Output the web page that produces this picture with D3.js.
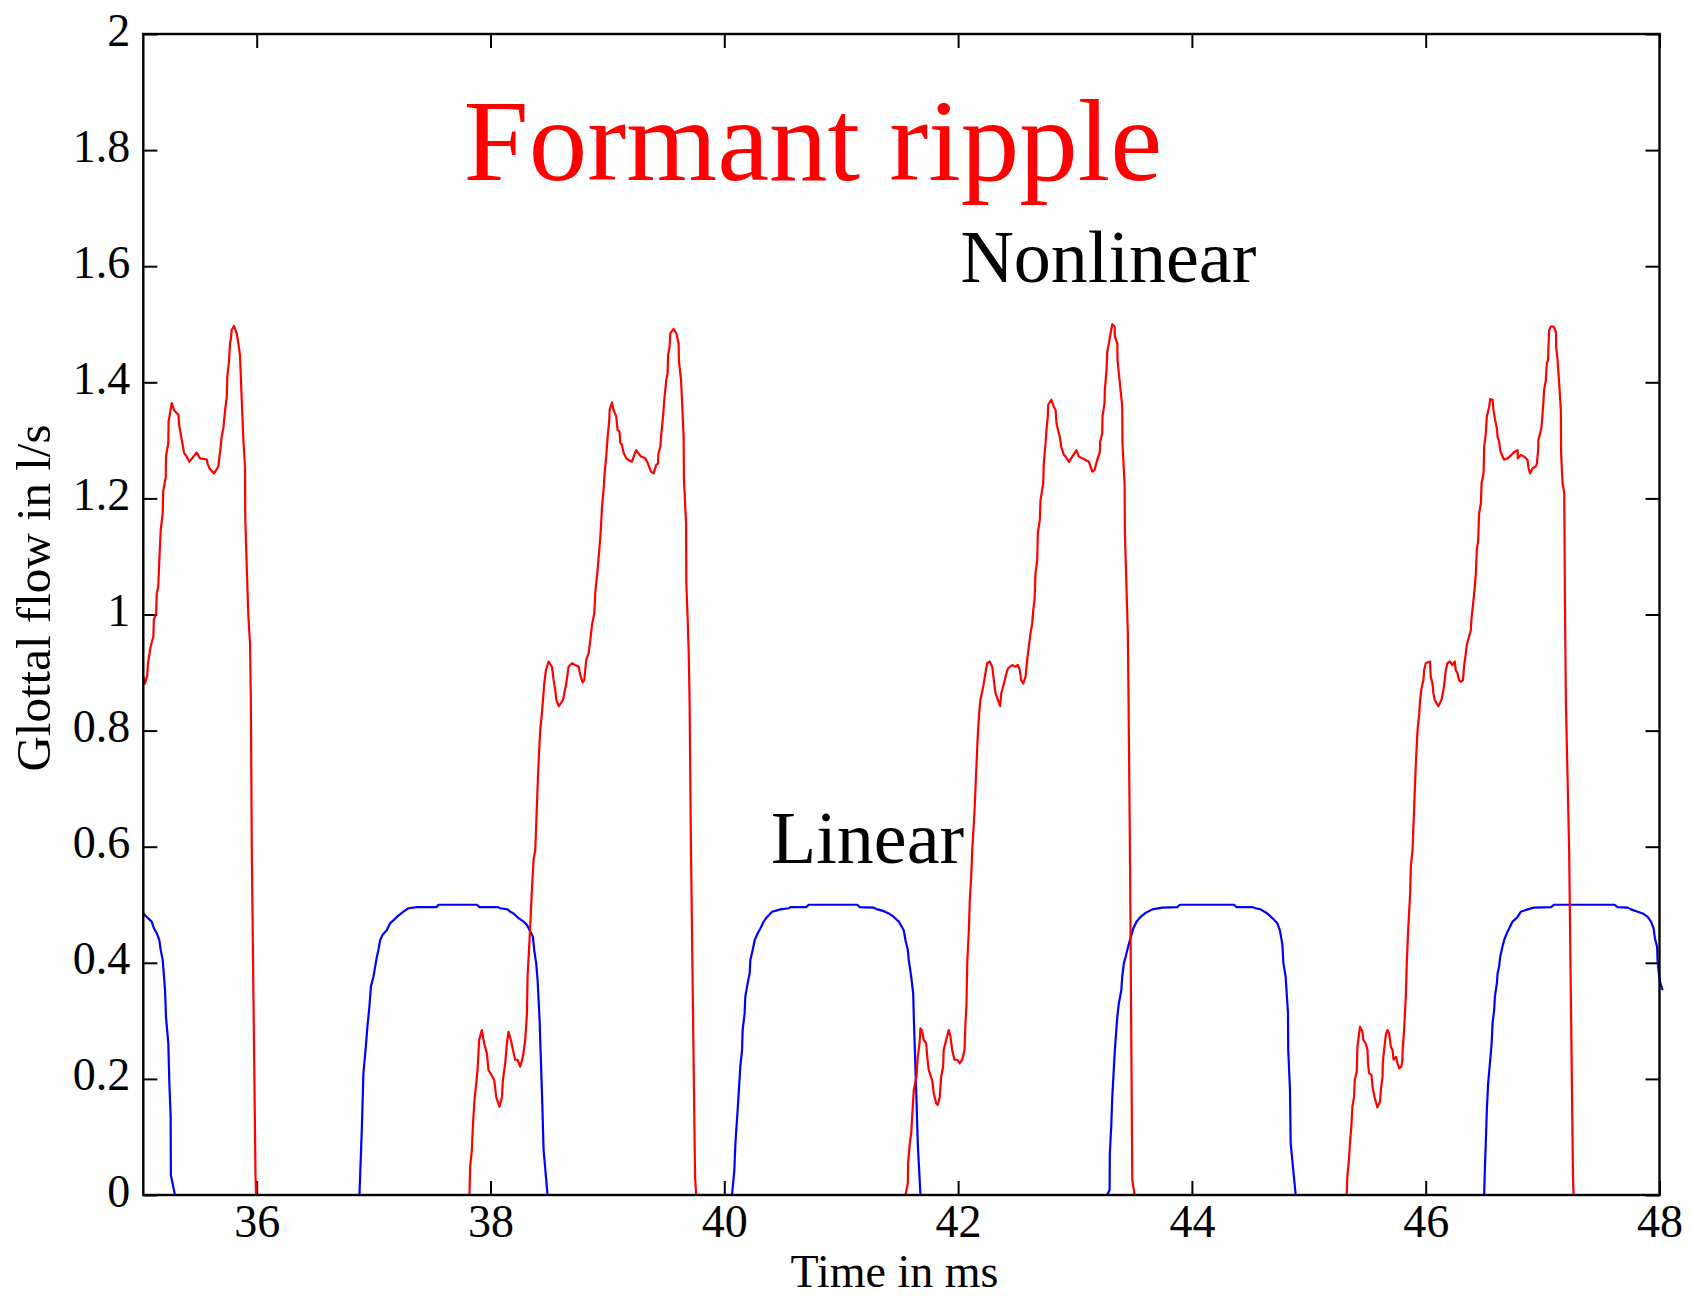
<!DOCTYPE html>
<html>
<head>
<meta charset="utf-8">
<script src="https://cdn.jsdelivr.net/npm/d3@7"></script>
<style>
  body { margin: 0; background: #fff; }
  svg { display: block; }
  text { font-family: "Times New Roman", "Liberation Serif", serif; }
</style>
</head>
<body>
<svg width="1691" height="1296"></svg>
<script>
// time in ms, flow in l/s
const nonlinear = [
  [35.03,0.893],[35.045,0.881],[35.064,0.896],[35.07,0.916],[35.093,0.945],[35.116,0.962],[35.12,0.991],[35.14,1.002],
  [35.145,1.037],[35.158,1.048],[35.167,1.094],[35.179,1.146],[35.196,1.174],[35.2,1.212],[35.222,1.237],[35.224,1.272],
  [35.244,1.295],[35.246,1.332],[35.273,1.364],[35.293,1.352],[35.33,1.344],[35.338,1.324],[35.359,1.301],[35.378,1.279],
  [35.401,1.272],[35.424,1.263],[35.458,1.272],[35.487,1.279],[35.515,1.269],[35.573,1.267],[35.58,1.26],[35.595,1.252],
  [35.635,1.243],[35.672,1.255],[35.68,1.269],[35.692,1.289],[35.70,1.306],[35.715,1.321],[35.73,1.352],[35.744,1.375],
  [35.749,1.41],[35.763,1.436],[35.772,1.467],[35.78,1.476],[35.786,1.49],[35.806,1.497],[35.829,1.484],[35.843,1.467],
  [35.857,1.447],[35.872,1.37],[35.886,1.301],[35.9,1.255],[35.902,1.168],[35.915,1.082],[35.929,0.996],[35.943,0.950],
  [35.95,0.853],[35.958,0.594],[35.99,0.03],[35.995,0],
  [37.82,0],[37.826,0.049],[37.841,0.078],[37.849,0.118],[37.863,0.164],[37.878,0.192],[37.889,0.215],[37.903,0.267],
  [37.926,0.284],[37.946,0.261],[37.969,0.244],[37.983,0.215],[38.004,0.208],[38.032,0.198],[38.049,0.169],[38.077,0.152],
  [38.098,0.169],[38.106,0.198],[38.126,0.227],[38.14,0.261],[38.154,0.281],[38.174,0.267],[38.192,0.25],[38.211,0.233],
  [38.231,0.233],[38.254,0.221],[38.277,0.238],[38.297,0.267],[38.312,0.313],[38.317,0.376],[38.334,0.439],[38.354,0.525],
  [38.368,0.577],[38.383,0.594],[38.395,0.66],[38.41,0.74],[38.425,0.8],[38.44,0.83],[38.449,0.853],[38.46,0.881],
  [38.474,0.904],[38.497,0.919],[38.526,0.91],[38.54,0.887],[38.554,0.87],[38.563,0.853],[38.585,0.842],[38.62,0.853],
  [38.631,0.864],[38.648,0.881],[38.668,0.91],[38.697,0.916],[38.725,0.913],[38.754,0.91],[38.768,0.896],[38.788,0.883],
  [38.802,0.887],[38.819,0.922],[38.839,0.933],[38.854,0.956],[38.868,0.982],[38.888,1.002],[38.896,1.037],[38.916,1.077],
  [38.933,1.117],[38.945,1.151],[38.954,1.186],[38.967,1.214],[38.976,1.243],[38.99,1.272],[39.002,1.306],[39.016,1.335],
  [39.019,1.352],[39.039,1.365],[39.053,1.352],[39.076,1.341],[39.087,1.318],[39.104,1.315],[39.11,1.296],[39.125,1.292],
  [39.139,1.278],[39.162,1.269],[39.181,1.266],[39.21,1.263],[39.23,1.275],[39.247,1.283],[39.267,1.277],[39.288,1.272],
  [39.324,1.269],[39.347,1.26],[39.373,1.246],[39.395,1.243],[39.418,1.258],[39.433,1.26],[39.436,1.277],[39.453,1.289],
  [39.459,1.306],[39.476,1.341],[39.487,1.37],[39.504,1.404],[39.515,1.416],[39.519,1.447],[39.532,1.461],[39.538,1.484],
  [39.566,1.492],[39.59,1.484],[39.609,1.467],[39.612,1.436],[39.63,1.404],[39.638,1.37],[39.652,1.306],[39.655,1.232],
  [39.673,1.157],[39.675,1.054],[39.686,0.996],[39.695,0.939],[39.703,0.853],[39.715,0.594],[39.75,0.03],[39.76,0],
  [41.55,0],[41.57,0.02],[41.572,0.055],[41.587,0.089],[41.599,0.106],[41.607,0.135],[41.621,0.181],[41.644,0.204],
  [41.655,0.238],[41.67,0.261],[41.678,0.287],[41.69,0.284],[41.706,0.267],[41.727,0.261],[41.736,0.238],[41.749,0.215],
  [41.778,0.198],[41.792,0.175],[41.813,0.158],[41.826,0.155],[41.843,0.169],[41.855,0.204],[41.872,0.221],[41.877,0.25],
  [41.898,0.267],[41.92,0.284],[41.935,0.273],[41.949,0.25],[41.969,0.233],[41.992,0.233],[42.014,0.227],[42.035,0.233],
  [42.055,0.25],[42.063,0.296],[42.072,0.33],[42.078,0.399],[42.092,0.456],[42.1,0.508],[42.112,0.548],[42.121,0.594],
  [42.14,0.66],[42.155,0.73],[42.168,0.79],[42.18,0.83],[42.191,0.853],[42.215,0.876],[42.234,0.899],[42.249,0.916],
  [42.271,0.919],[42.292,0.91],[42.306,0.887],[42.32,0.864],[42.34,0.853],[42.36,0.842],[42.369,0.864],[42.392,0.881],
  [42.414,0.899],[42.426,0.907],[42.463,0.913],[42.491,0.91],[42.511,0.913],[42.528,0.904],[42.54,0.887],[42.557,0.881],
  [42.577,0.893],[42.591,0.922],[42.605,0.945],[42.62,0.968],[42.634,0.985],[42.643,1.008],[42.654,1.025],[42.662,1.071],
  [42.677,1.094],[42.682,1.14],[42.699,1.163],[42.705,1.197],[42.728,1.226],[42.733,1.26],[42.748,1.295],[42.756,1.318],
  [42.767,1.341],[42.771,1.361],[42.797,1.37],[42.819,1.358],[42.834,1.352],[42.842,1.329],[42.862,1.312],[42.87,1.306],
  [42.882,1.289],[42.905,1.275],[42.919,1.272],[42.948,1.263],[42.977,1.272],[43.013,1.283],[43.033,1.272],[43.062,1.269],
  [43.09,1.266],[43.119,1.263],[43.148,1.246],[43.167,1.249],[43.19,1.266],[43.213,1.28],[43.215,1.298],[43.233,1.312],
  [43.235,1.341],[43.253,1.364],[43.255,1.387],[43.27,1.421],[43.276,1.453],[43.29,1.467],[43.304,1.484],[43.319,1.5],
  [43.339,1.496],[43.341,1.479],[43.362,1.467],[43.364,1.438],[43.384,1.398],[43.404,1.358],[43.406,1.295],[43.424,1.226],
  [43.427,1.14],[43.441,1.042],[43.452,0.968],[43.458,0.853],[43.47,0.594],[43.49,0.026],[43.51,0],
  [45.324,0],[45.33,0.032],[45.343,0.06],[45.352,0.089],[45.364,0.118],[45.373,0.152],[45.387,0.169],[45.393,0.198],
  [45.41,0.212],[45.416,0.255],[45.438,0.29],[45.459,0.281],[45.467,0.267],[45.487,0.261],[45.502,0.25],[45.507,0.227],
  [45.515,0.21],[45.536,0.207],[45.545,0.187],[45.564,0.167],[45.587,0.151],[45.61,0.161],[45.616,0.181],[45.631,0.204],
  [45.633,0.227],[45.644,0.25],[45.659,0.276],[45.673,0.284],[45.687,0.279],[45.702,0.255],[45.716,0.25],[45.725,0.233],
  [45.745,0.238],[45.759,0.227],[45.773,0.218],[45.793,0.222],[45.801,0.233],[45.803,0.25],[45.815,0.284],[45.83,0.342],
  [45.838,0.399],[45.85,0.456],[45.867,0.52],[45.873,0.566],[45.887,0.594],[45.9,0.66],[45.915,0.74],[45.93,0.8],
  [45.945,0.83],[45.952,0.853],[45.964,0.873],[45.981,0.887],[45.986,0.904],[46.001,0.916],[46.037,0.919],[46.043,0.893],
  [46.058,0.881],[46.066,0.864],[46.077,0.853],[46.108,0.842],[46.135,0.853],[46.152,0.87],[46.163,0.887],[46.172,0.904],
  [46.186,0.916],[46.208,0.919],[46.229,0.913],[46.249,0.919],[46.257,0.904],[46.272,0.899],[46.285,0.887],[46.3,0.884],
  [46.319,0.887],[46.328,0.91],[46.343,0.933],[46.351,0.947],[46.371,0.962],[46.386,0.973],[46.391,0.991],[46.4,1.008],
  [46.409,1.025],[46.42,1.048],[46.429,1.071],[46.437,1.111],[46.449,1.128],[46.457,1.174],[46.472,1.192],[46.478,1.226],
  [46.495,1.243],[46.5,1.289],[46.514,1.312],[46.523,1.341],[46.543,1.358],[46.552,1.371],[46.572,1.37],[46.58,1.352],
  [46.594,1.335],[46.609,1.321],[46.615,1.306],[46.628,1.298],[46.637,1.283],[46.651,1.275],[46.671,1.267],[46.7,1.269],
  [46.734,1.275],[46.756,1.28],[46.786,1.283],[46.788,1.269],[46.814,1.275],[46.842,1.272],[46.871,1.266],[46.88,1.252],
  [46.893,1.243],[46.914,1.252],[46.942,1.255],[46.951,1.26],[46.962,1.283],[46.964,1.301],[46.979,1.312],[46.991,1.324],
  [47.0,1.347],[47.008,1.37],[47.013,1.387],[47.028,1.404],[47.036,1.433],[47.047,1.438],[47.049,1.456],[47.056,1.49],
  [47.071,1.496],[47.094,1.496],[47.114,1.487],[47.116,1.461],[47.128,1.438],[47.142,1.398],[47.156,1.352],[47.158,1.278],
  [47.171,1.226],[47.185,1.209],[47.191,1.025],[47.199,0.853],[47.227,0.594],[47.26,0.03],[47.265,0],[48,0]
];

const linear = [
  [35.03,0.485],[35.06,0.479],[35.102,0.471],[35.122,0.459],[35.145,0.451],[35.167,0.439],[35.179,0.422],[35.196,0.405],
  [35.216,0.353],[35.224,0.307],[35.244,0.261],[35.253,0.192],[35.264,0.135],[35.266,0.034],[35.301,0],
  [36.879,0],[36.9,0.118],[36.913,0.21],[36.936,0.261],[36.947,0.29],[36.964,0.324],[36.977,0.359],[36.999,0.376],
  [37.013,0.393],[37.028,0.41],[37.041,0.422],[37.056,0.439],[37.076,0.448],[37.113,0.456],[37.141,0.468],[37.199,0.479],
  [37.255,0.488],[37.298,0.494],[37.37,0.496],[37.54,0.496],[37.555,0.5],[37.884,0.5],[37.906,0.496],[38.06,0.496],
  [38.083,0.494],[38.146,0.492],[38.169,0.488],[38.197,0.485],[38.24,0.477],[38.283,0.471],[38.312,0.465],[38.34,0.454],
  [38.363,0.445],[38.374,0.422],[38.391,0.399],[38.403,0.37],[38.42,0.301],[38.432,0.227],[38.443,0.158],[38.454,0.078],
  [38.488,0],
  [40.066,0],[40.086,0.043],[40.095,0.089],[40.114,0.146],[40.137,0.221],[40.152,0.25],[40.157,0.284],[40.174,0.313],
  [40.18,0.342],[40.2,0.365],[40.217,0.382],[40.223,0.405],[40.243,0.422],[40.26,0.439],[40.286,0.451],[40.309,0.459],
  [40.337,0.471],[40.366,0.479],[40.409,0.488],[40.48,0.492],[40.551,0.494],[40.566,0.496],[40.703,0.496],[40.722,0.5],
  [41.137,0.5],[41.159,0.496],[41.279,0.495],[41.308,0.492],[41.351,0.49],[41.407,0.485],[41.45,0.479],[41.493,0.471],
  [41.535,0.456],[41.55,0.439],[41.57,0.422],[41.578,0.405],[41.599,0.376],[41.616,0.347],[41.621,0.307],[41.63,0.25],
  [41.644,0.164],[41.655,0.089],[41.678,0],
  [43.276,0],[43.296,0.009],[43.298,0.072],[43.31,0.118],[43.319,0.169],[43.333,0.221],[43.341,0.25],[43.362,0.307],
  [43.375,0.33],[43.396,0.353],[43.404,0.376],[43.418,0.399],[43.433,0.41],[43.447,0.422],[43.47,0.439],[43.499,0.459],
  [43.527,0.471],[43.561,0.479],[43.604,0.486],[43.661,0.492],[43.747,0.495],[43.875,0.496],[43.898,0.5],[44.36,0.5],
  [44.383,0.496],[44.517,0.496],[44.545,0.494],[44.588,0.492],[44.645,0.485],[44.688,0.477],[44.731,0.468],[44.753,0.456],
  [44.774,0.431],[44.783,0.399],[44.802,0.376],[44.822,0.313],[44.824,0.25],[44.839,0.181],[44.845,0.089],[44.888,0],
  [46.5,0],[46.506,0.043],[46.514,0.089],[46.523,0.146],[46.534,0.192],[46.552,0.233],[46.564,0.261],[46.572,0.296],
  [46.586,0.319],[46.592,0.342],[46.609,0.365],[46.615,0.382],[46.628,0.393],[46.637,0.41],[46.657,0.428],[46.671,0.439],
  [46.694,0.451],[46.714,0.459],[46.743,0.471],[46.786,0.479],[46.814,0.488],[46.871,0.492],[46.928,0.495],[47.071,0.496],
  [47.099,0.5],[47.613,0.5],[47.642,0.496],[47.728,0.495],[47.756,0.492],[47.813,0.488],[47.856,0.485],[47.899,0.479],
  [47.927,0.471],[47.95,0.459],[47.961,0.442],[47.979,0.428],[47.985,0.399],[47.998,0.376],[48.007,0.365],[48.027,0.353]
];

const xTicks = [36, 38, 40, 42, 44, 46, 48];
const xTickLabels = ["36", "38", "40", "42", "44", "46", "48"];
const yTicks = [0, 0.2, 0.4, 0.6, 0.8, 1, 1.2, 1.4, 1.6, 1.8, 2];
const yTickLabels = ["0", "0.2", "0.4", "0.6", "0.8", "1", "1.2", "1.4", "1.6", "1.8", "2"];

const svg = d3.select("svg");
const plotL = 143.3, plotR = 1659.5, plotT = 34, plotB = 1195;

const x = d3.scaleLinear().domain([35.03, 48]).range([plotL, plotR]);
const y = d3.scaleLinear().domain([0, 2]).range([plotB, plotT]);

const fontFam = '"Times New Roman", "Liberation Serif", serif';

// axes with inward ticks on all four sides
const tickLen = 14;
const gBottom = svg.append("g").attr("transform", `translate(0,${plotB})`)
  .call(d3.axisBottom(x).tickValues(xTicks).tickSize(-tickLen).tickSizeOuter(0)
    .tickFormat((d, i) => xTickLabels[i]));
gBottom.selectAll("text").attr("y", 42).attr("dy", 0)
  .style("font-size", "46px").style("font-family", fontFam).attr("fill", "#000");

svg.append("g").attr("transform", `translate(0,${plotT})`)
  .call(d3.axisTop(x).tickValues(xTicks).tickSize(-tickLen).tickSizeOuter(0).tickFormat(""));

const gLeft = svg.append("g").attr("transform", `translate(${plotL},0)`)
  .call(d3.axisLeft(y).tickValues(yTicks).tickSize(-tickLen).tickSizeOuter(0)
    .tickPadding(13).tickFormat((d, i) => yTickLabels[i]));
gLeft.selectAll("text").attr("dy", "0.24em")
  .style("font-size", "46px").style("font-family", fontFam).attr("fill", "#000");

svg.append("g").attr("transform", `translate(${plotR},0)`)
  .call(d3.axisRight(y).tickValues(yTicks).tickSize(-tickLen).tickSizeOuter(0).tickFormat(""));

svg.selectAll(".domain").remove();
svg.selectAll(".tick line").attr("stroke", "#000").attr("stroke-width", 2);

// curves
const line = d3.line().x(d => x(d[0])).y(d => y(d[1]));

svg.append("path").datum(linear)
  .attr("d", line).attr("fill", "none")
  .attr("stroke", "#0000ff").attr("stroke-width", 2.2).attr("stroke-linejoin", "round");

svg.append("path").datum(nonlinear)
  .attr("d", line).attr("fill", "none")
  .attr("stroke", "#ff0000").attr("stroke-width", 2.2).attr("stroke-linejoin", "round");

// frame
svg.append("rect")
  .attr("x", plotL).attr("y", plotT)
  .attr("width", plotR - plotL).attr("height", plotB - plotT)
  .attr("fill", "none").attr("stroke", "#000").attr("stroke-width", 2.4);

// annotations
svg.append("text").attr("x", x(37.77)).attr("y", y(1.748))
  .attr("fill", "#ff0000").style("font-size", "117px").text("Formant ripple");
svg.append("text").attr("x", x(42.02)).attr("y", y(1.572))
  .attr("fill", "#000").style("font-size", "74px").text("Nonlinear");
svg.append("text").attr("x", x(40.40)).attr("y", y(0.572))
  .attr("fill", "#000").style("font-size", "74px").text("Linear");

// axis labels
svg.append("text").attr("x", (plotL + plotR) / 2 - 7).attr("y", 1287)
  .attr("text-anchor", "middle").style("font-size", "46px").text("Time in ms");
svg.append("text")
  .attr("transform", `translate(50,598) rotate(-90)`)
  .attr("text-anchor", "middle").style("font-size", "49px").text("Glottal flow in l/s");
</script>
</body>
</html>
